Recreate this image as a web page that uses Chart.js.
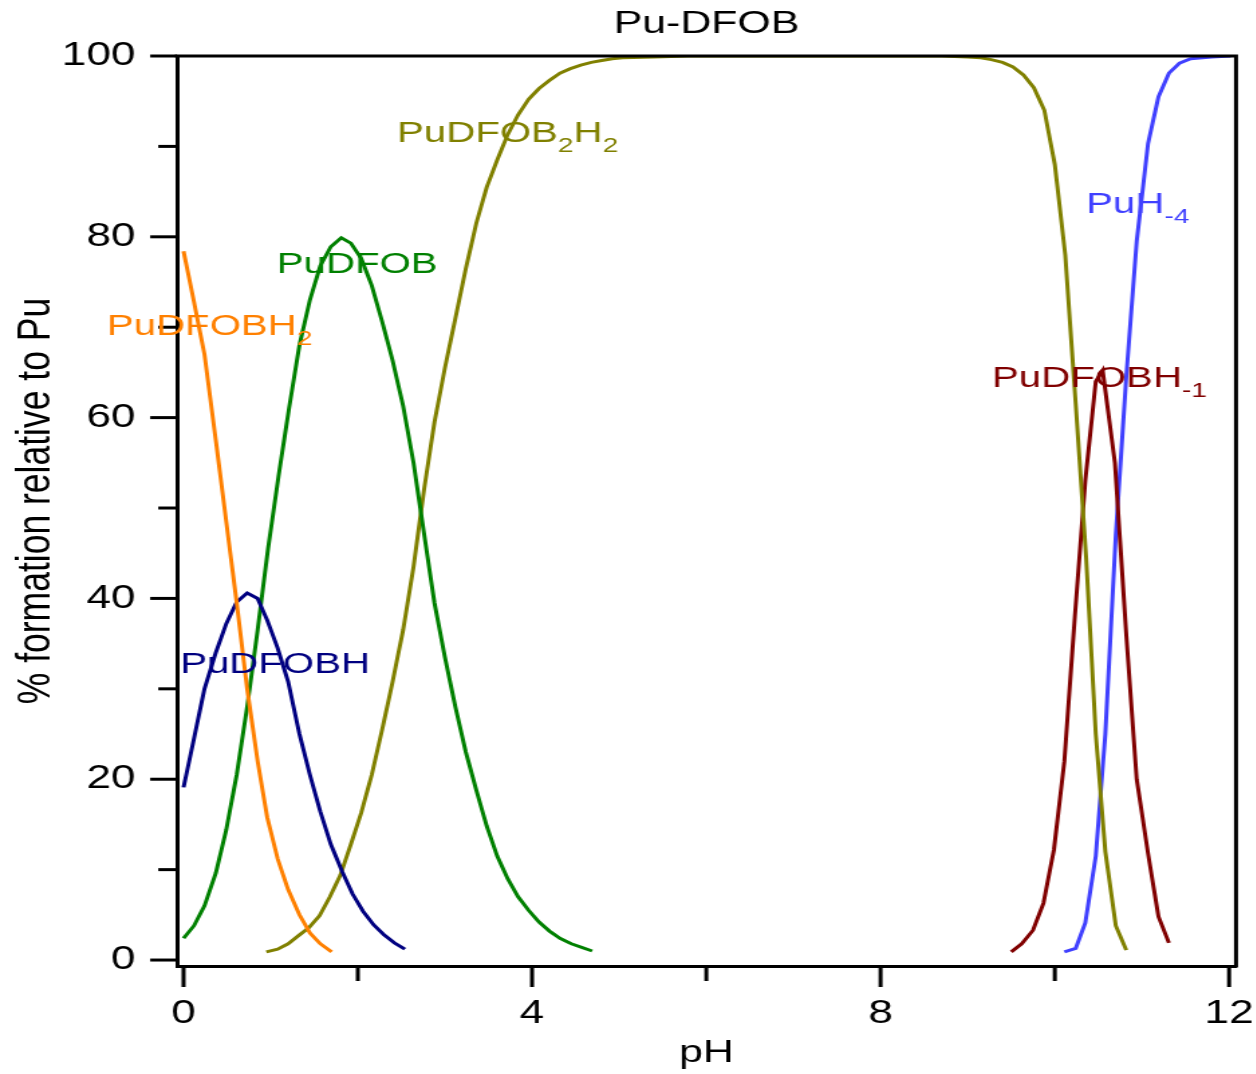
<!DOCTYPE html>
<html>
<head>
<meta charset="utf-8">
<title>Pu-DFOB</title>
<script src="https://cdn.jsdelivr.net/npm/chart.js"></script>
<style>
  html, body { margin: 0; padding: 0; background: #fff; overflow: hidden; }
  #wrap { width: 937px; height: 1074px; transform: scaleX(1.34); transform-origin: 0 0; }
</style>
</head>
<body>
<div id="wrap"><canvas id="canvas" width="937" height="1074"></canvas></div>
<script>
// pH / % formation
var orangePH  = [0, 0.12, 0.24, 0.37, 0.49, 0.61, 0.73, 0.85, 0.96, 1.08, 1.20, 1.33, 1.45, 1.57, 1.70];
var orangePct = [78.4, 72.8, 67.0, 57.5, 48.5, 39.5, 30.0, 22.0, 15.8, 11.2, 7.8, 5.0, 3.0, 1.8, 0.9];

var navyPH  = [0, 0.12, 0.24, 0.37, 0.49, 0.61, 0.73, 0.85, 0.96, 1.08, 1.20, 1.33, 1.45, 1.57, 1.69, 1.82, 1.94, 2.06, 2.18, 2.30, 2.42, 2.54];
var navyPct = [19.1, 24.5, 30.0, 34.0, 37.2, 39.6, 40.6, 40.0, 37.6, 34.5, 30.8, 25.0, 20.5, 16.4, 12.8, 9.8, 7.3, 5.4, 3.9, 2.8, 1.9, 1.2];

var greenPH  = [0, 0.12, 0.24, 0.37, 0.49, 0.61, 0.73, 0.85, 0.97, 1.09, 1.21, 1.33, 1.45, 1.57, 1.69, 1.81, 1.92, 2.04,
                2.16, 2.28, 2.40, 2.52, 2.64, 2.76, 2.88, 3.00, 3.12, 3.24, 3.36, 3.48, 3.60, 3.72, 3.84, 3.96, 4.08, 4.20, 4.32, 4.45, 4.57, 4.69];
var greenPct = [2.4, 3.8, 6.0, 9.6, 14.4, 20.5, 28.0, 36.5, 45.5, 53.5, 61.0, 68.0, 73.0, 76.8, 78.9, 79.9, 79.3, 77.6,
                74.6, 70.6, 66.3, 61.3, 55.0, 47.2, 39.5, 33.5, 28.0, 23.0, 18.8, 14.8, 11.5, 9.0, 7.0, 5.5, 4.2, 3.2, 2.4, 1.8, 1.4, 1.0];

var olivePH  = [0.95, 1.08, 1.20, 1.32, 1.44, 1.56, 1.68, 1.80, 1.92, 2.04, 2.16, 2.28, 2.40, 2.52, 2.64, 2.76, 2.88, 3.00,
                3.12, 3.24, 3.36, 3.48, 3.60, 3.72, 3.84, 3.96, 4.08, 4.20, 4.32, 4.44, 4.56, 4.68, 4.80, 4.92, 5.04, 5.40, 5.80,
                8.70, 9.00, 9.15, 9.27, 9.40, 9.52, 9.64, 9.76, 9.88, 10.00, 10.12, 10.24, 10.36, 10.47, 10.58, 10.70, 10.82];
var olivePct = [0.9, 1.2, 1.8, 2.7, 3.6, 4.9, 7.0, 9.4, 12.8, 16.3, 20.5, 25.5, 30.8, 36.5, 43.5, 52.0, 59.5, 65.5,
                71.0, 76.5, 81.5, 85.5, 88.5, 91.3, 93.5, 95.2, 96.4, 97.3, 98.1, 98.6, 99.0, 99.3, 99.5, 99.7, 99.8, 99.9, 100,
                100, 99.9, 99.8, 99.6, 99.3, 98.8, 97.9, 96.5, 94.0, 88.0, 78.0, 61.5, 44.5, 25.0, 12.0, 3.8, 1.1];

var redPH  = [9.50, 9.62, 9.75, 9.87, 9.99, 10.11, 10.23, 10.35, 10.47, 10.55, 10.69, 10.82, 10.94, 11.07, 11.19, 11.31];
var redPct = [0.9, 1.8, 3.3, 6.3, 12.2, 22.0, 38.0, 53.0, 64.0, 65.2, 55.0, 36.0, 20.0, 11.8, 4.8, 1.9];

var bluePH  = [10.11, 10.24, 10.35, 10.47, 10.58, 10.70, 10.82, 10.94, 11.07, 11.19, 11.31, 11.43, 11.56, 11.80, 12.02];
var bluePct = [0.9, 1.3, 4.1, 11.5, 25.0, 47.0, 64.5, 79.5, 90.3, 95.5, 98.1, 99.2, 99.7, 99.9, 100];

var xTicks = [0, 4, 8, 12];
var xMarks = [0, 2, 4, 6, 8, 10, 12];
var yTicks = [0, 20, 40, 60, 80, 100];
var yMarks = [0, 10, 20, 30, 40, 50, 60, 70, 80, 90, 100];

var FONT = "'Liberation Sans', Arial, sans-serif";

// in-plot species names: [text, subscript?] parts, anchored at (pH, %) of the text baseline
var speciesLabels = [
    { color: '#FF8000', at: [-0.88, 69.1], parts: [['PuDFOBH', false], ['2', true]] },
    { color: '#008000', at: [1.07, 76.0], parts: [['PuDFOB', false]] },
    { color: '#000080', at: [-0.04, 31.7], parts: [['PuDFOBH', false]] },
    { color: '#808000', at: [2.45, 90.5], parts: [['PuDFOB', false], ['2', true], ['H', false], ['2', true]] },
    { color: '#4040FF', at: [10.36, 82.6], parts: [['PuH', false], ['-4', true]] },
    { color: '#800000', at: [9.28, 63.4], parts: [['PuDFOBH', false], ['-1', true]] }
];

function pts(xs, ys) {
    return xs.map(function(v, i) { return { x: v, y: ys[i] }; });
}

function line(data, color) {
    return {
        data: data,
        borderColor: color,
        borderWidth: 3,
        pointRadius: 0,
        fill: false,
        tension: 0
    };
}

var decor = {
    id: 'decor',
    afterDraw: function(chart) {
        var ctx = chart.ctx, a = chart.chartArea, xs = chart.scales.x, ys = chart.scales.y;
        ctx.save();
        ctx.strokeStyle = '#000';
        ctx.lineWidth = 3;
        ctx.beginPath();
        ctx.moveTo(a.left - 1.5, a.top);
        ctx.lineTo(a.right, a.top);
        ctx.lineTo(a.right, a.bottom + 1.5);
        ctx.stroke();
        xMarks.forEach(function(v) {
            var px = xs.getPixelForValue(v);
            var len = xTicks.indexOf(v) >= 0 ? 21 : 15;
            ctx.beginPath();
            ctx.moveTo(px, a.bottom);
            ctx.lineTo(px, a.bottom + len);
            ctx.stroke();
        });
        yMarks.forEach(function(v) {
            var py = ys.getPixelForValue(v);
            var len = yTicks.indexOf(v) >= 0 ? 20 : 14;
            ctx.beginPath();
            ctx.moveTo(a.left, py);
            ctx.lineTo(a.left - len, py);
            ctx.stroke();
        });

        ctx.fillStyle = '#000';
        ctx.font = '32px ' + FONT;
        ctx.textAlign = 'center';
        ctx.textBaseline = 'middle';
        ctx.fillText('Pu-DFOB', (a.left + a.right) / 2, 24);

        // y axis title, a little above the middle of the axis as in the original
        ctx.save();
        ctx.font = '35.5px ' + FONT;
        ctx.translate(27.5, (a.top + a.bottom) / 2 - 10);
        ctx.rotate(-Math.PI / 2);
        ctx.fillText('% formation relative to Pu', 0, 0);
        ctx.restore();

        ctx.textAlign = 'left';
        ctx.textBaseline = 'alphabetic';
        speciesLabels.forEach(function(l) {
            var px = xs.getPixelForValue(l.at[0]);
            var py = ys.getPixelForValue(l.at[1]);
            ctx.fillStyle = l.color;
            l.parts.forEach(function(p) {
                ctx.font = (p[1] ? 21 : 30) + 'px ' + FONT;
                ctx.fillText(p[0], px, py + (p[1] ? 10 : 0));
                px += ctx.measureText(p[0]).width;
            });
        });
        ctx.restore();
    }
};

window.onload = function() {
    var ctx = document.getElementById('canvas').getContext('2d');
    window.chart = new Chart(ctx, {
        type: 'line',
        data: {
            datasets: [
                line(pts(orangePH, orangePct), '#FF8000'),
                line(pts(navyPH, navyPct), '#000080'),
                line(pts(greenPH, greenPct), '#008000'),
                line(pts(olivePH, olivePct), '#808000'),
                line(pts(redPH, redPct), '#800000'),
                line(pts(bluePH, bluePct), '#4040FF')
            ]
        },
        options: {
            responsive: false,
            animation: false,
            layout: { padding: { top: 56, right: 14.6, left: 0, bottom: 0 } },
            plugins: {
                legend: { display: false },
                tooltip: { enabled: false },
                title: { display: false }
            },
            scales: {
                x: {
                    type: 'linear',
                    min: -0.075,
                    max: 12.08,
                    afterBuildTicks: function(s) { s.ticks = xTicks.map(function(v) { return { value: v }; }); },
                    afterFit: function(s) { s.height = 108; s.paddingLeft = 0; s.paddingRight = 0; },
                    grid: { display: false, drawTicks: false },
                    border: { display: true, color: '#000', width: 3 },
                    ticks: { color: '#000', font: { size: 33, family: FONT }, padding: 28, maxRotation: 0, autoSkip: false },
                    title: { display: true, text: 'pH', color: '#000', font: { size: 32, family: FONT }, padding: { top: 0, bottom: 1.8 } }
                },
                y: {
                    min: -0.66,
                    max: 100,
                    afterBuildTicks: function(s) { s.ticks = yTicks.map(function(v) { return { value: v }; }); },
                    afterFit: function(s) { s.width = 132.1; s.paddingTop = 0; s.paddingBottom = 0; },
                    grid: { display: false, drawTicks: false },
                    border: { display: true, color: '#000', width: 3 },
                    ticks: { color: '#000', font: { size: 33, family: FONT }, padding: 31, autoSkip: false },
                    title: { display: false }
                }
            }
        },
        plugins: [decor]
    });
};
</script>
</body>
</html>
